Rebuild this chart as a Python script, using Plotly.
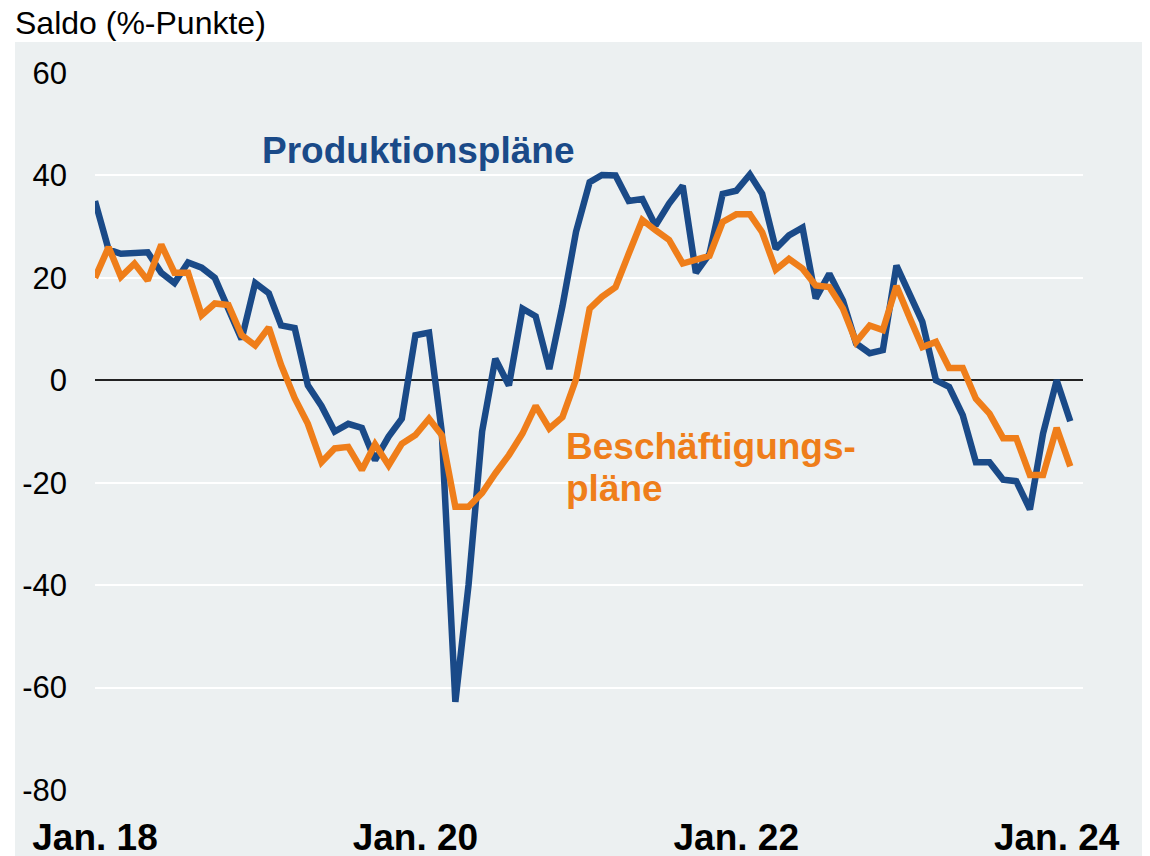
import plotly.graph_objects as go
import pandas as pd

months = pd.date_range("2018-01-01", periods=74, freq="MS").strftime("%Y-%m-%d").tolist()

produktion = [35, 25.5, 24.7, 25, 25, 21, 19, 23, 22, 20, 13.5, 8, 19, 17, 10.7, 10.2,
              -1, -5, -10, -8.5, -9.3, -15.6, -11, -7.5, 8.8, 9.3, -10, -62.8, -40, -10,
              4.2, -1, 14, 12.5, 2.2, 14.5, 29, 38.7, 40.1, 40, 35, 35.4, 30.2, 34.5, 38,
              21, 24.7, 36.4, 37, 40.2, 36.4, 25.7, 28.3, 29.8, 16, 20.8, 15.6, 7.2, 5.3,
              5.9, 22.4, 16.6, 11.4, 0, -1.3, -6.8, -16, -16, -19.4, -19.7, -25.2, -10.4,
              0, -8]

beschaeftigung = [20, 26, 20.2, 22.8, 19.5, 26.5, 21, 21, 12.7, 15, 14.7, 8.8, 6.8, 10.3,
                  3, -3.5, -8.5, -16, -13.3, -13, -17.5, -12.5, -16.6, -12.4, -10.7, -7.5,
                  -10.7, -24.7, -24.7, -22, -18.2, -14.6, -10.4, -5, -9.4, -7.2, 0.2, 14,
                  16.3, 18.2, 24.7, 31.3, 29.3, 27.4, 22.8, 23.7, 24.3, 30.9, 32.4, 32.4,
                  28.9, 21.6, 23.7, 21.8, 18.5, 18.2, 14, 7.5, 10.7, 9.8, 18.4, 12, 6.5,
                  7.5, 2.4, 2.4, -3.6, -6.5, -11.3, -11.3, -18.5, -18.5, -9.3, -16.8]

tick_vals = ["2018-01-01", "2020-01-01", "2022-01-01", "2024-01-01"]
tick_text = ["Jan. 18", "Jan. 20", "Jan. 22", "Jan. 24"]
y_ticks = [-80, -60, -40, -20, 0, 20, 40, 60]
y_tick_text = ["-80", "-60", "-40", "-20", "0", "20", "40", "60"]

BLUE = "#1A4A88"
ORANGE = "#EF7E1A"
BG = "#ECF0F1"
FONT = "Liberation Sans, Arial, sans-serif"

OFF = 8  # page body margin
W, H = 1150, 856
# plot area in page pixels: x 95..1083, y 73..790
L = 95 - OFF
T = 73 - OFF
R = W - (1083 - OFF)
B = H - (790 - OFF)
pw, ph = W - L - R, H - T - B


def px_x(x):
    return (x - OFF - L) / pw


def px_y(y):
    return (H - B - (y - OFF)) / ph


fig = go.Figure()
fig.add_trace(go.Scatter(x=months, y=produktion, mode="lines",
                         line=dict(color=BLUE, width=6.5), name="Produktionspläne"))
fig.add_trace(go.Scatter(x=months, y=beschaeftigung, mode="lines",
                         line=dict(color=ORANGE, width=6.5), name="Beschäftigungspläne"))

fig.add_shape(type="rect", xref="paper", yref="paper",
              x0=px_x(15), x1=px_x(1170), y0=px_y(880), y1=px_y(42),
              fillcolor=BG, line=dict(width=0), layer="below")

fig.add_annotation(xref="paper", yref="paper", x=px_x(13), y=px_y(23),
                   xanchor="left", yanchor="middle", showarrow=False,
                   text="Saldo (%-Punkte)",
                   font=dict(family=FONT, size=32, color="black"))
fig.add_annotation(xref="paper", yref="paper", x=px_x(260), y=px_y(151),
                   xanchor="left", yanchor="middle", showarrow=False,
                   text="<b>Produktionspläne</b>",
                   font=dict(family=FONT, size=37, color=BLUE))
fig.add_annotation(xref="paper", yref="paper", x=px_x(564), y=px_y(447),
                   xanchor="left", yanchor="middle", showarrow=False,
                   text="<b>Beschäftigungs-</b>",
                   font=dict(family=FONT, size=37, color=ORANGE))
fig.add_annotation(xref="paper", yref="paper", x=px_x(564), y=px_y(488),
                   xanchor="left", yanchor="middle", showarrow=False,
                   text="<b>pläne</b>",
                   font=dict(family=FONT, size=37, color=ORANGE))

fig.update_layout(
    width=W, height=H,
    margin=dict(l=L, r=R, t=T, b=B, pad=0, autoexpand=False),
    paper_bgcolor="white",
    plot_bgcolor="rgba(0,0,0,0)",
    showlegend=False,
    font=dict(family=FONT, color="black"),
)

fig.update_xaxes(range=["2018-01-01", "2024-03-01"], tickmode="array",
                 tickvals=tick_vals, ticktext=tick_text, showgrid=False,
                 zeroline=False, showline=False, ticks="", automargin=False,
                 tickfont=dict(family=FONT, size=37, color="black", weight="bold"),
                 ticklabelstandoff=22)
fig.update_yaxes(range=[-80, 60], tickmode="array", tickvals=y_ticks,
                 ticktext=y_tick_text, automargin=False,
                 showgrid=True, gridcolor="white", gridwidth=2,
                 zeroline=True, zerolinecolor="#222222", zerolinewidth=1.5,
                 showline=False, ticks="",
                 tickfont=dict(family=FONT, size=31, color="black"),
                 ticklabelstandoff=27)

fig.write_html("out.html")
